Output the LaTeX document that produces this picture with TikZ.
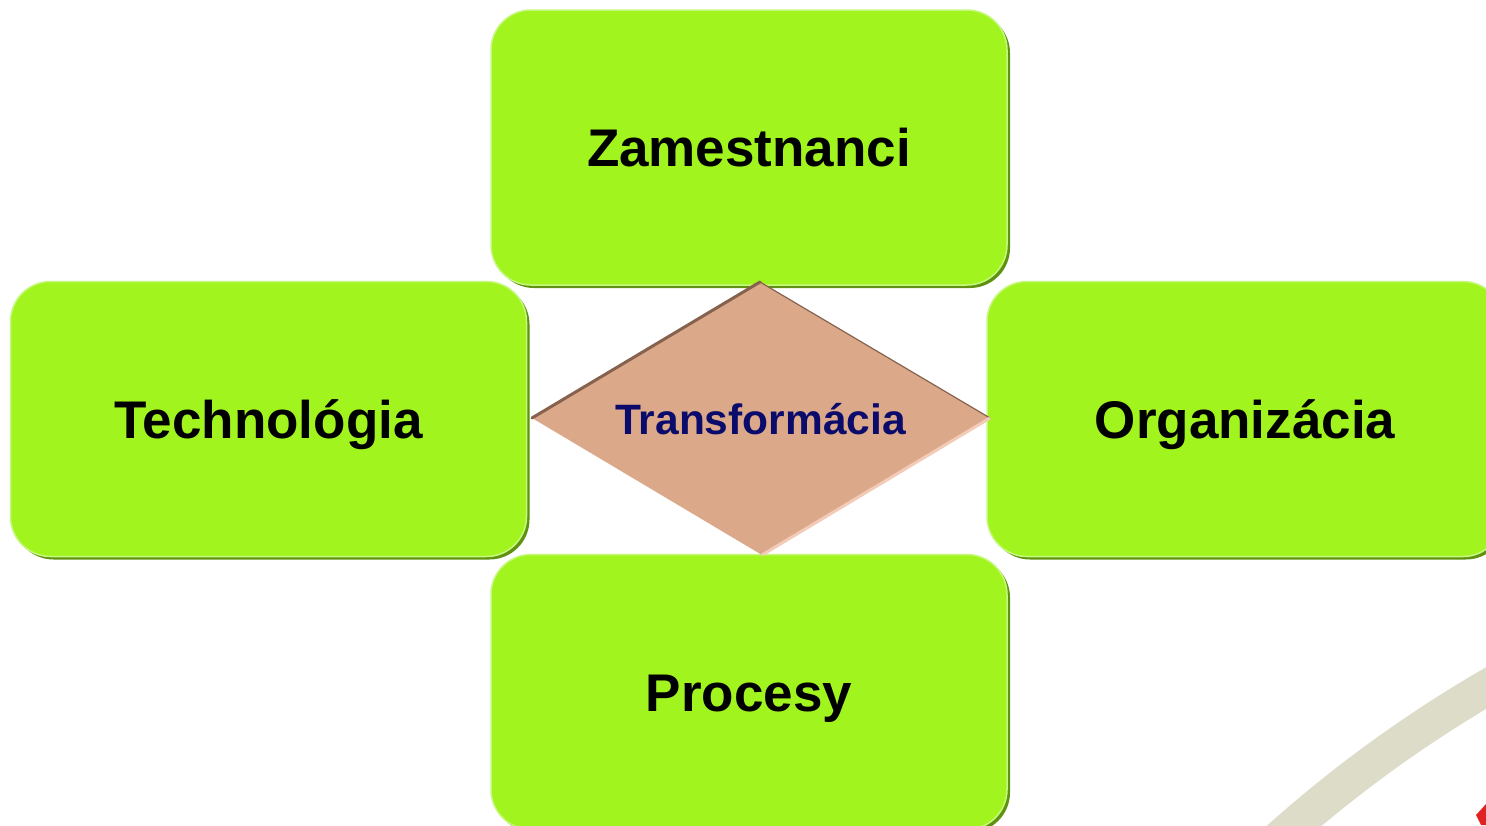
\documentclass[tikz,border=0pt]{standalone}
\usepackage{fontspec}
\setmainfont{Liberation Sans}
\usetikzlibrary{shadows}
\definecolor{boxgreen}{HTML}{A2F41E}
\definecolor{boxdark}{HTML}{5E9210}
\definecolor{boxlight}{HTML}{C6F880}
\definecolor{dfill}{HTML}{DBA98A}
\definecolor{ddark}{HTML}{86624E}
\definecolor{dlight}{HTML}{F2CCB8}
\definecolor{navy}{HTML}{0B0B6C}
\definecolor{arcgray}{HTML}{DCDCC9}
\definecolor{redtip}{HTML}{E02222}
\tikzset{
  greenbox/.style={rectangle, rounded corners=40pt, minimum width=516pt, minimum height=275pt,
    inner sep=0pt, fill=boxgreen, draw=boxlight, line width=1.5pt,
    drop shadow={shadow xshift=3pt, shadow yshift=-3pt, fill=boxdark, opacity=1},
    font=\bfseries\fontsize{53}{60}\selectfont, text=black, text height=38pt, text depth=0pt},
  transtext/.style={inner sep=0pt, font=\bfseries\fontsize{42.5}{48}\selectfont, text=navy,
    text height=30.5pt, text depth=0pt}
}
\begin{document}
\begin{tikzpicture}[x=1pt,y=-1pt]
\useasboundingbox (0,0) rectangle (1486,825);
\begin{scope}
  \clip (0,0) rectangle (1486,825);
  \coordinate (c) at (2135,1796);
  \draw[arcgray, line width=36pt] (c) ++(145:1284pt) arc[start angle=145, end angle=105, radius=1284pt];
  \fill[redtip] (1476,815) -- (1486,804) -- (1486,825) -- (1481,825) -- cycle;
  \node[greenbox] (zam) at (749,147.5) {Zamestnanci};
  \node[greenbox] (tech) at (268.5,419) {Technológia};
  \node[greenbox] (org) at (1245,419) {Organizácia};
  \node[greenbox] (proc) at (749,692) {Procesy};
  \coordinate (dn) at (760,282);
  \coordinate (dw) at (532,418);
  \coordinate (de) at (990,418);
  \coordinate (ds) at (762,555);
  \fill[dfill] (dn) -- (de) -- (ds) -- (dw) -- cycle;
  \draw[ddark, line width=3pt, line cap=round] (dw) -- (dn);
  \draw[ddark, line width=1.2pt] (dn) -- (de);
  \draw[dlight, line width=3pt] (de) -- (ds);
  \node[transtext] (trans) at (760.5,419.5) {Transformácia};
\end{scope}
\end{tikzpicture}
\end{document}
